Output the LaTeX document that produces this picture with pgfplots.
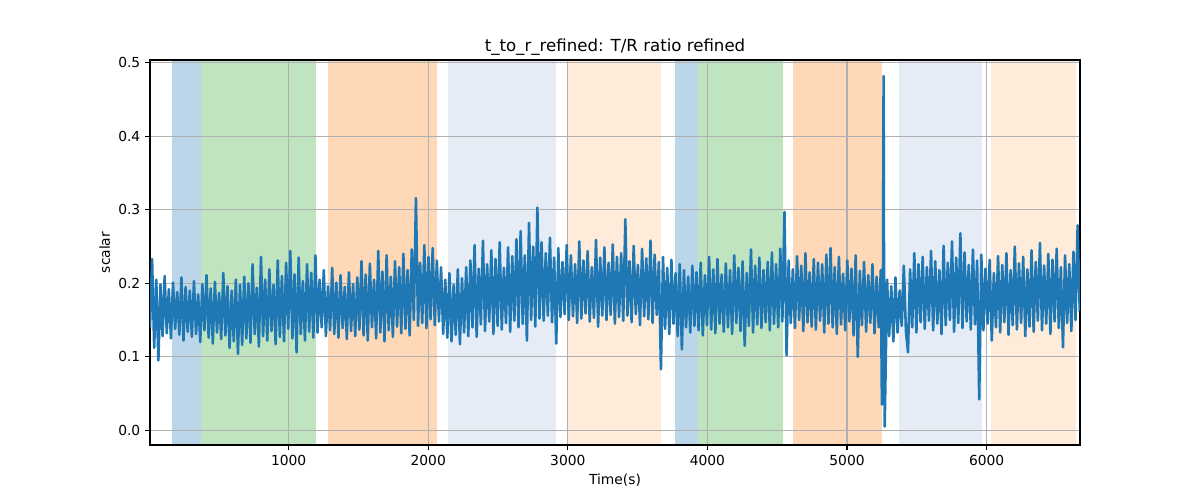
\documentclass[border=0pt]{standalone}
\usepackage{pgfplots}
\pgfplotsset{compat=1.18}
\usepackage{fontspec}
\setmainfont{DejaVu Sans}
\definecolor{tabblue}{RGB}{31,119,180}
\definecolor{spanblue}{RGB}{188,214,233}
\definecolor{spangreen}{RGB}{192,227,192}
\definecolor{spanorange}{RGB}{255,217,183}
\definecolor{spanlblue}{RGB}{229,236,246}
\definecolor{spanlorange}{RGB}{254,235,217}
\definecolor{gridgray}{RGB}{176,176,176}
\begin{document}
\begin{tikzpicture}
\begin{axis}[
  set layers,
  scale only axis,
  width=9.3in, height=3.85in,
  at={(0,0)}, anchor=south west,
  xmin=7, xmax=6669, ymin=-0.020, ymax=0.5038,
  xtick={1000,2000,3000,4000,5000,6000},
  ytick={0,0.1,0.2,0.3,0.4,0.5},
  xtick pos=bottom, ytick pos=left,
  tick align=outside,
  major tick length=3.5pt,
  tick style={black, line width=0.8pt},
  axis line style={black, line width=0.8pt},
  grid=major,
  major grid style={gridgray, line width=0.8pt},
  /pgf/number format/assume math mode=true,
  xticklabel style={font=\fontsize{10}{12}\selectfont, /pgf/number format/1000 sep={}},
  yticklabel style={font=\fontsize{10}{12}\selectfont, /pgf/number format/.cd, fixed, fixed zerofill, precision=1},
  title={t\_to\_r\_refined: T/R ratio refined},
  title style={at={(0.5,1)}, anchor=base, inner sep=0pt, font=\fontsize{12}{14}\selectfont},
  xlabel={Time(s)},
  xlabel style={at={(0.5,0)}, anchor=base, yshift=-28.8pt, inner sep=0pt, font=\fontsize{10}{12}\selectfont},
  ylabel={scalar},
  ylabel style={at={(0,0.5)}, anchor=south, yshift=28.6pt, inner sep=0pt, font=\fontsize{10}{12}\selectfont},
]
% shaded spans
\addplot[fill=spanblue, draw=none, forget plot, on layer=axis background] coordinates {(167,-0.020) (167,0.5038) (373,0.5038) (373,-0.020)} --cycle;
\addplot[fill=spangreen, draw=none, forget plot, on layer=axis background] coordinates {(373,-0.020) (373,0.5038) (1196,0.5038) (1196,-0.020)} --cycle;
\addplot[fill=spanorange, draw=none, forget plot, on layer=axis background] coordinates {(1284,-0.020) (1284,0.5038) (2063,0.5038) (2063,-0.020)} --cycle;
\addplot[fill=spanlblue, draw=none, forget plot, on layer=axis background] coordinates {(2139,-0.020) (2139,0.5038) (2915,0.5038) (2915,-0.020)} --cycle;
\addplot[fill=spanlorange, draw=none, forget plot, on layer=axis background] coordinates {(3001,-0.020) (3001,0.5038) (3668,0.5038) (3668,-0.020)} --cycle;
\addplot[fill=spanblue, draw=none, forget plot, on layer=axis background] coordinates {(3765,-0.020) (3765,0.5038) (3933,0.5038) (3933,-0.020)} --cycle;
\addplot[fill=spangreen, draw=none, forget plot, on layer=axis background] coordinates {(3933,-0.020) (3933,0.5038) (4544,0.5038) (4544,-0.020)} --cycle;
\addplot[fill=spanorange, draw=none, forget plot, on layer=axis background] coordinates {(4615,-0.020) (4615,0.5038) (5251,0.5038) (5251,-0.020)} --cycle;
\addplot[fill=spanlblue, draw=none, forget plot, on layer=axis background] coordinates {(5375,-0.020) (5375,0.5038) (5967,0.5038) (5967,-0.020)} --cycle;
\addplot[fill=spanlorange, draw=none, forget plot, on layer=axis background] coordinates {(6034,-0.020) (6034,0.5038) (6640,0.5038) (6640,-0.020)} --cycle;
% signal
\addplot[tabblue, line width=1.85pt, line join=round, mark=none] table {
x y
7 .140
22 .233
37 .112
52 .205
67 .095
82 .198
97 .128
112 .210
127 .132
142 .192
157 .125
172 .201
187 .138
202 .188
217 .130
232 .208
247 .122
262 .195
277 .134
292 .190
307 .127
322 .203
337 .131
352 .185
367 .120
382 .199
397 .136
412 .211
427 .126
442 .193
457 .118
472 .202
487 .133
502 .187
517 .124
532 .214
547 .129
562 .196
577 .112
592 .190
607 .121
622 .205
637 .104
652 .198
667 .116
682 .209
697 .125
712 .200
727 .119
742 .226
757 .131
772 .194
787 .114
802 .236
817 .128
832 .205
847 .122
862 .219
877 .135
892 .198
907 .117
922 .231
937 .127
952 .210
967 .121
982 .228
997 .138
1012 .244
1027 .125
1042 .212
1057 .106
1072 .235
1087 .131
1102 .203
1117 .122
1132 .226
1147 .134
1162 .214
1177 .126
1192 .238
1207 .133
1222 .205
1237 .140
1252 .218
1267 .128
1282 .196
1297 .136
1312 .221
1327 .131
1342 .201
1357 .126
1372 .211
1387 .139
1402 .195
1417 .124
1432 .215
1447 .135
1462 .199
1477 .128
1492 .208
1507 .137
1522 .230
1537 .129
1552 .212
1567 .122
1582 .227
1597 .140
1612 .205
1627 .125
1642 .244
1657 .133
1672 .216
1687 .121
1702 .238
1717 .136
1732 .209
1747 .127
1762 .230
1777 .141
1792 .222
1807 .132
1822 .240
1837 .138
1852 .218
1867 .129
1882 .246
1897 .150
1912 .316
1927 .142
1942 .228
1957 .146
1972 .252
1987 .139
2002 .236
2017 .151
2032 .248
2047 .143
2062 .231
2077 .148
2092 .222
2107 .131
2122 .205
2137 .126
2152 .214
2167 .121
2182 .198
2197 .130
2212 .219
2227 .117
2242 .207
2257 .133
2272 .222
2287 .128
2302 .231
2317 .140
2332 .252
2347 .127
2362 .220
2377 .144
2392 .258
2407 .135
2422 .226
2437 .148
2452 .245
2467 .131
2482 .233
2497 .142
2512 .256
2527 .137
2542 .221
2557 .146
2572 .249
2587 .134
2602 .237
2617 .149
2632 .260
2647 .140
2662 .271
2677 .145
2692 .238
2707 .122
2722 .282
2737 .150
2752 .250
2767 .141
2782 .303
2797 .152
2812 .256
2827 .149
2842 .241
2857 .156
2872 .262
2887 .147
2902 .235
2917 .118
2932 .248
2947 .154
2962 .229
2977 .158
2992 .252
3007 .150
3022 .238
3037 .155
3052 .226
3067 .146
3082 .257
3097 .152
3112 .231
3127 .159
3142 .244
3157 .148
3172 .222
3187 .153
3202 .259
3217 .141
3232 .235
3247 .156
3262 .249
3277 .150
3292 .228
3307 .157
3322 .253
3337 .145
3352 .236
3367 .154
3382 .241
3397 .149
3412 .287
3427 .156
3442 .230
3457 .147
3472 .251
3487 .158
3502 .225
3517 .143
3532 .247
3547 .155
3562 .234
3577 .151
3592 .258
3607 .146
3622 .239
3637 .157
3652 .229
3667 .083
3682 .236
3697 .138
3712 .221
3727 .131
3742 .232
3757 .145
3772 .214
3787 .128
3802 .226
3817 .110
3832 .218
3847 .140
3862 .209
3877 .133
3892 .224
3907 .142
3922 .215
3937 .136
3952 .228
3967 .129
3982 .211
3997 .143
4012 .236
4027 .137
4042 .219
4057 .132
4072 .233
4087 .145
4102 .212
4117 .134
4132 .227
4147 .140
4162 .218
4177 .131
4192 .238
4207 .146
4222 .221
4237 .135
4252 .230
4267 .115
4282 .214
4297 .142
4312 .246
4327 .133
4342 .224
4357 .144
4372 .235
4387 .139
4402 .218
4417 .147
4432 .229
4447 .136
4462 .242
4477 .145
4492 .226
4507 .140
4522 .247
4537 .148
4552 .297
4567 .102
4582 .231
4597 .146
4612 .219
4627 .139
4642 .237
4657 .150
4672 .224
4687 .135
4702 .241
4717 .147
4732 .215
4747 .141
4762 .233
4777 .137
4792 .228
4807 .149
4822 .226
4837 .133
4852 .239
4867 .145
4882 .248
4897 .140
4912 .222
4927 .131
4942 .236
4957 .144
4972 .213
4987 .136
5002 .231
5017 .148
5032 .220
5047 .129
5062 .238
5077 .100
5092 .217
5107 .143
5122 .229
5137 .134
5152 .211
5167 .146
5182 .226
5197 .132
5212 .209
5227 .140
5242 .218
5250 .035
5257 .160
5262 .482
5266 .150
5270 .005
5287 .205
5302 .128
5317 .196
5332 .121
5347 .208
5362 .133
5377 .190
5392 .142
5407 .224
5422 .135
5437 .106
5452 .219
5467 .140
5482 .241
5497 .133
5512 .226
5527 .147
5542 .236
5557 .138
5572 .222
5587 .149
5602 .244
5617 .136
5632 .230
5647 .145
5662 .218
5677 .131
5692 .251
5707 .143
5722 .228
5737 .150
5752 .257
5767 .134
5782 .235
5797 .146
5812 .268
5827 .139
5842 .242
5857 .148
5872 .225
5887 .137
5902 .246
5917 .144
5932 .231
5947 .042
5962 .239
5977 .136
5992 .220
6007 .145
6022 .232
6037 .122
6052 .214
6067 .140
6082 .237
6097 .133
6112 .225
6127 .147
6142 .241
6157 .130
6172 .218
6187 .143
6202 .250
6217 .137
6232 .227
6247 .146
6262 .236
6277 .128
6292 .219
6307 .141
6322 .245
6337 .134
6352 .229
6367 .149
6382 .255
6397 .136
6412 .224
6427 .145
6442 .240
6457 .131
6472 .232
6487 .148
6502 .247
6517 .139
6532 .222
6547 .113
6562 .238
6577 .146
6592 .226
6607 .135
6622 .243
6637 .150
6652 .279
6667 .162
};
\end{axis}
\pgfresetboundingbox
\path[use as bounding box] (-1.5in,-0.55in) rectangle (10.5in,4.45in);
\end{tikzpicture}
\end{document}
